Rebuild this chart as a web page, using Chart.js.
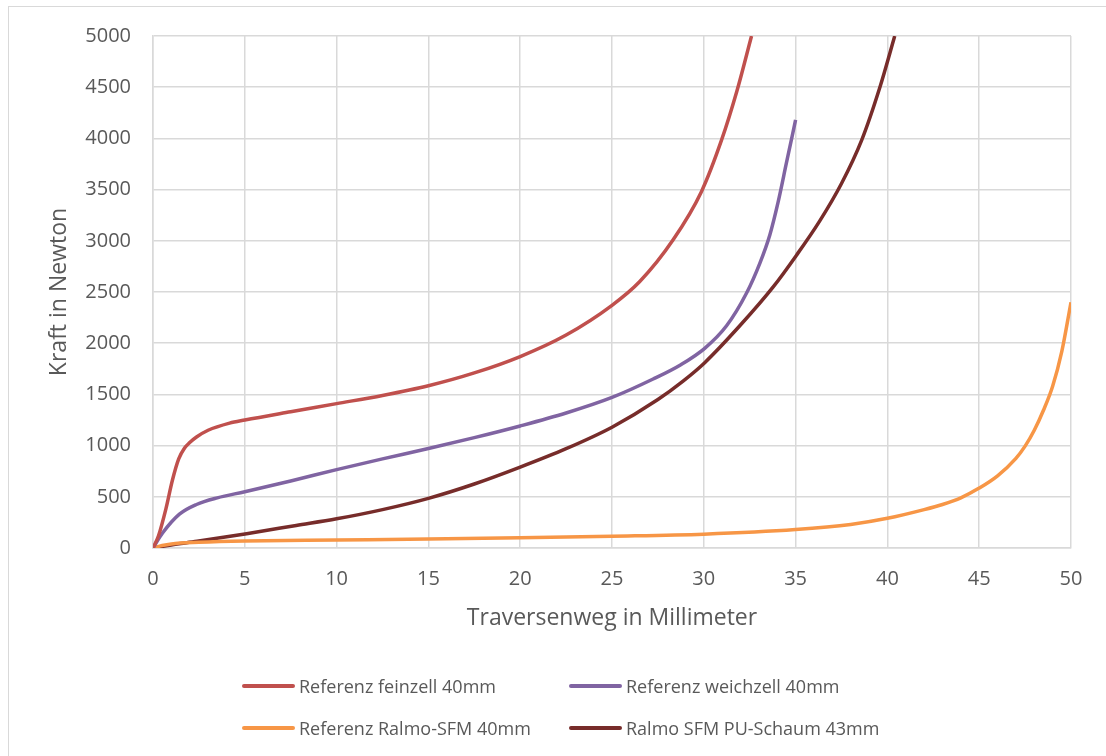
<!DOCTYPE html>
<html>
<head>
<meta charset="utf-8">
<script src="https://cdn.jsdelivr.net/npm/chart.js@4.4.0/dist/chart.umd.min.js"></script>
<style>
  html, body { margin: 0; padding: 0; background: #fff; overflow: hidden; }
  #wrap { position: relative; width: 1106px; height: 756px; }
  #frame { position: absolute; left: 8px; top: 6px; width: 1110px; height: 770px; border: 1px solid #d9d9d9; box-sizing: border-box; }
  canvas { position: absolute; left: 0; top: 0; }
  #legend { position: absolute; left: 242px; top: 665px; display: grid; grid-template-columns: 327px 327px; grid-auto-rows: 42px;
            font-family: 'Open Sans', sans-serif; font-size: 18px; color: #595959; }
  .item { display: flex; align-items: center; white-space: nowrap; }
  .swatch { width: 53px; height: 4px; border-radius: 2px; margin-right: 4px; }
</style>
</head>
<body>
<div id="wrap">
  <div id="frame"></div>
  <canvas id="chart" width="1106" height="756"></canvas>
  <div id="legend"></div>
</div>
<script>
// Achsen
const xTicks = [0, 5, 10, 15, 20, 25, 30, 35, 40, 45, 50];
const yTicks = [0, 500, 1000, 1500, 2000, 2500, 3000, 3500, 4000, 4500, 5000];

// Referenz feinzell 40mm
const feinzellX = [0, 0.3, 0.7, 1.06, 1.4, 1.72, 2.0, 2.37, 3, 4.17, 5, 7.5, 10, 12.5, 15, 17.5, 20, 22.5, 25, 26.5, 28.33, 29.87, 30.96, 31.8, 32.6];
const feinzellY = [0, 120, 380, 664, 870, 977, 1030, 1084, 1150, 1220, 1250, 1331, 1410, 1490, 1585, 1710, 1870, 2080, 2370, 2600, 3010, 3480, 3980, 4460, 5000];

// Referenz weichzell 40mm
const weichzellX = [0, 0.52, 1.44, 2.37, 3.5, 5, 7.5, 10, 12.5, 15, 17.5, 20, 22.5, 25, 27.24, 28.75, 30.05, 31.24, 32.33, 33.05, 33.6, 34.05, 34.5, 35];
const weichzellY = [0, 146, 330, 425, 490, 550, 655, 765, 870, 972, 1078, 1192, 1318, 1470, 1650, 1790, 1950, 2170, 2490, 2780, 3060, 3380, 3760, 4180];

// Referenz Ralmo-SFM 40mm
const ralmoX = [0, 0.5, 1, 2.5, 5, 10, 15, 20, 25, 30, 35, 38, 40, 42, 43, 44, 45, 46, 47, 47.5, 48, 48.5, 49, 49.5, 50];
const ralmoY = [0, 25, 40, 55, 68, 78, 88, 100, 115, 135, 180, 230, 290, 375, 425, 490, 585, 705, 876, 995, 1150, 1345, 1580, 1920, 2400];

// Ralmo SFM PU-Schaum 43mm
const puX = [0, 1, 2.4, 5.1, 7.8, 10, 12.5, 15, 17.5, 20, 22.5, 25, 27.5, 28.87, 30.05, 31.96, 33.78, 35.05, 36.3, 37.5, 38.6, 39.6, 40.4];
const puY = [0, 30, 65, 140, 220, 285, 375, 485, 625, 790, 970, 1180, 1450, 1630, 1810, 2170, 2550, 2860, 3190, 3560, 3984, 4505, 5000];

const textColor = '#595959';
const gridColor = '#d9d9d9';
const fontFamily = "'Open Sans', sans-serif";

function toPoints(xs, ys) {
    return xs.map((x, i) => ({ x: x, y: ys[i] }));
}

function series(label, xs, ys, color) {
    return {
        label: label,
        data: toPoints(xs, ys),
        borderColor: color,
        backgroundColor: color,
        borderWidth: 3.5,
        pointRadius: 0,
        cubicInterpolationMode: 'monotone',
        fill: false
    };
}

const chart = new Chart(document.getElementById('chart'), {
    type: 'line',
    data: {
        datasets: [
            series('Referenz feinzell 40mm', feinzellX, feinzellY, '#C0504D'),
            series('Referenz weichzell 40mm', weichzellX, weichzellY, '#8064A2'),
            series('Referenz Ralmo-SFM 40mm', ralmoX, ralmoY, '#F79646'),
            series('Ralmo SFM PU-Schaum 43mm', puX, puY, '#772C2A')
        ]
    },
    options: {
        responsive: false,
        animation: false,
        layout: { padding: { top: 36, right: 35, bottom: 108, left: 0 } },
        plugins: {
            legend: { display: false },
            tooltip: { enabled: false }
        },
        scales: {
            x: {
                type: 'linear',
                min: 0,
                max: 50,
                afterBuildTicks: (scale) => { scale.ticks = xTicks.map(v => ({ value: v })); },
                afterFit: (scale) => { scale.height = 100; },
                grid: { color: gridColor, lineWidth: 1.5, drawTicks: false },
                border: { color: gridColor, width: 1.5 },
                ticks: { color: textColor, padding: 19, font: { family: fontFamily, size: 20 }, callback: (v) => String(v) },
                title: {
                    display: true,
                    text: 'Traversenweg in Millimeter',
                    color: textColor,
                    font: { family: fontFamily, size: 23 },
                    padding: { top: 0, bottom: 16 }
                }
            },
            y: {
                min: 0,
                max: 5000,
                afterBuildTicks: (scale) => { scale.ticks = yTicks.map(v => ({ value: v })); },
                afterFit: (scale) => { scale.width = 153; },
                grid: { color: gridColor, lineWidth: 1.5, drawTicks: false },
                border: { color: gridColor, width: 1.5 },
                ticks: { color: textColor, padding: 22, font: { family: fontFamily, size: 20 }, callback: (v) => String(v) },
                title: {
                    display: true,
                    text: 'Kraft in Newton',
                    color: textColor,
                    font: { family: fontFamily, size: 23 },
                    padding: { top: 46, bottom: 0 }
                }
            }
        }
    }
});

// Legende im 2x2-Raster wie im Original
const legendEl = document.getElementById('legend');
chart.data.datasets.forEach(ds => {
    const item = document.createElement('div');
    item.className = 'item';
    const sw = document.createElement('span');
    sw.className = 'swatch';
    sw.style.background = ds.borderColor;
    const txt = document.createElement('span');
    txt.textContent = ds.label;
    item.appendChild(sw);
    item.appendChild(txt);
    legendEl.appendChild(item);
});
</script>
</body>
</html>
